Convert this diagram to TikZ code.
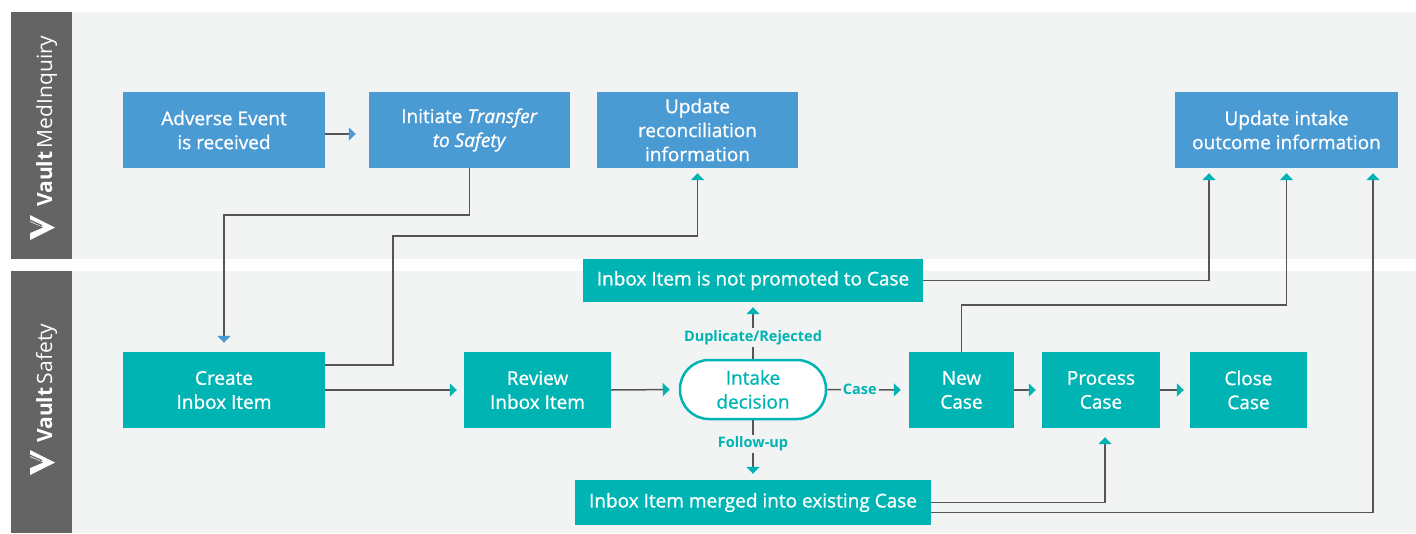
\documentclass[tikz,border=0pt]{standalone}
\usepackage{fontspec}
\setmainfont{Open Sans}
\newfontfamily\medfont{Open Sans}[FakeBold=0.9]
\usetikzlibrary{arrows.meta}
\definecolor{vblue}{HTML}{4A9AD4}
\definecolor{vteal}{HTML}{00B4B4}
\definecolor{lanebg}{HTML}{F2F3F3}
\definecolor{lanedark}{HTML}{646464}
\definecolor{linegray}{HTML}{555555}
\begin{document}
\begin{tikzpicture}[x=1pt,y=-1pt,
  box/.style={draw=none, inner sep=0pt, text=white, align=center, font=\medfont\fontsize{19}{24}\selectfont},
  bluebox/.style={box, fill=vblue},
  tealbox/.style={box, fill=vteal},
  conn/.style={draw=linegray, line width=1.5pt, -{Triangle[width=13pt,length=7pt,color=vteal]}},
  connb/.style={draw=linegray, line width=1.5pt, -{Triangle[width=13pt,length=7pt,color=vblue]}},
  lbl/.style={fill=lanebg, text=vteal, font=\fontsize{14.5}{16}\selectfont\bfseries, inner sep=2pt},
  lanetitle/.style={rotate=90, text=white, inner sep=0pt, font=\fontsize{21}{24}\selectfont},
  vlogo/.pic={\fill[white] (0,0) -- (25,12.5) -- (0,25) -- cycle;
              \fill[lanedark] (0,7) -- (13,12.5) -- (0,18) -- cycle;
              \fill[lanedark] (0,4.5) -- (12,10) -- (12,11.5) -- (0,6) -- cycle;}
]
\useasboundingbox (0,0) rectangle (1416,533);
\fill[white] (0,0) rectangle (1416,533);
% lanes
\fill[lanedark] (11,12) rectangle (72,259);
\fill[lanebg] (72,12) rectangle (1416,259);
\fill[lanedark] (11,271) rectangle (72,533);
\fill[lanebg] (72,271) rectangle (1416,533);
\pic at (30,215) {vlogo};
\pic at (30,450) {vlogo};
\node[lanetitle, anchor=base west] (lane1) at (52,207) {\textbf{Vault}\,MedInquiry};
\node[lanetitle, anchor=base west] (lane2) at (52,443) {\textbf{Vault}\,Safety};
% nodes
\node[bluebox, minimum width=202pt, minimum height=76pt] (adverse) at (224,130) {Adverse Event\\is received};
\node[bluebox, minimum width=201pt, minimum height=76pt] (initiate) at (469.5,130) {Initiate \textit{Transfer}\\\textit{to Safety}};
\node[bluebox, minimum width=201pt, minimum height=76pt] (recon) at (697.5,130) {Update\\reconciliation\\information};
\node[bluebox, minimum width=223pt, minimum height=76pt] (intakeout) at (1286.5,130) {Update intake\\outcome information};
\node[tealbox, minimum width=202pt, minimum height=76pt] (create) at (224,390) {Create\\Inbox Item};
\node[tealbox, minimum width=147pt, minimum height=76pt] (review) at (537.5,390) {Review\\Inbox Item};
\node[box, draw=vteal, line width=2.5pt, fill=white, text=vteal, rounded corners=29pt, minimum width=146pt, minimum height=59pt] (decision) at (753,389.5) {Intake\\decision};
\node[tealbox, minimum width=340pt, minimum height=43pt] (notprom) at (753,280.5) {Inbox Item is not promoted to Case};
\node[tealbox, minimum width=356pt, minimum height=45pt] (merged) at (753,502.5) {Inbox Item merged into existing Case};
\node[tealbox, minimum width=105pt, minimum height=76pt] (newcase) at (961.5,390) {New\\Case};
\node[tealbox, minimum width=118pt, minimum height=76pt] (process) at (1101,390) {Process\\Case};
\node[tealbox, minimum width=117pt, minimum height=76pt] (close) at (1248.5,390) {Close\\Case};
% connectors
\draw[connb, shorten >=13pt] ([yshift=-4pt]adverse.east) -- ([yshift=-4pt]initiate.west);
\draw[connb, shorten >=9pt] (initiate.south) -- ++(0,47) -| (create.north);
\draw[conn, shorten >=5pt] ([yshift=25pt]create.east) -| ++(68,-129) -| (recon.south);
\draw[conn, shorten >=7pt] (create.east) -- (review.west);
\draw[conn, shorten >=9pt] (review.east) -- (decision.west);
\draw[conn, shorten >=5pt] (decision.north) -- node[lbl, pos=0.38] (lbldup) {Duplicate/Rejected} (notprom.south);
\draw[conn, shorten >=8pt] (decision.east) -- node[lbl, pos=0.4] (lblcase) {Case} (newcase.west);
\draw[conn, shorten >=6pt] (decision.south) -- node[lbl, pos=0.4] (lblfu) {Follow-up} (merged.north);
\draw[conn, shorten >=6pt] (newcase.east) -- (process.west);
\draw[conn, shorten >=6pt] (process.east) -- (close.west);
\draw[conn, shorten >=5pt] (notprom.east) -| ([xshift=-77.5pt]intakeout.south);
\draw[conn, shorten >=5pt] (newcase.north) -- ++(0,-47) -| (intakeout.south);
\draw[conn, shorten >=9pt] (merged.east) -| ([xshift=4pt]process.south);
\draw[conn, shorten >=5pt] ([yshift=-10pt]merged.east) -| ([xshift=86.5pt]intakeout.south);
\end{tikzpicture}
\end{document}
